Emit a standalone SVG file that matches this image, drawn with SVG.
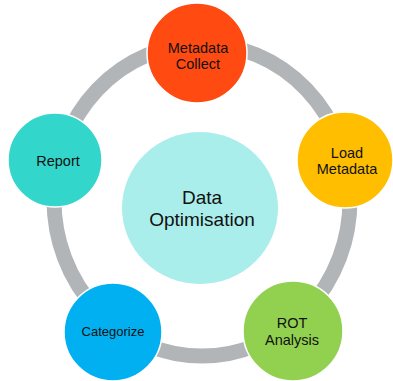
<svg xmlns="http://www.w3.org/2000/svg" width="393" height="381" viewBox="0 0 393 381">
<style>
.node{stroke:#ffffff;stroke-width:1.5}
.lbl{font-family:"Liberation Sans",Arial,sans-serif;font-size:14.5px;fill:#111111;text-anchor:middle}
.ring{fill:none;stroke:#B2B5B8;stroke-width:15}
</style>
<rect width="393" height="381" fill="#ffffff"/>
<g id="connectors">
<ellipse class="ring" cx="202" cy="200" rx="148" ry="156"/>
</g>
<g id="center">
<ellipse cx="200" cy="208" rx="78" ry="76" fill="#AAEEEB"/>
<text class="lbl" x="202" y="204" style="font-size:19px">Data</text>
<text class="lbl" x="202" y="226" style="font-size:19px">Optimisation</text>
</g>
<g id="metadata-collect">
<circle class="node" cx="197" cy="53" r="50" fill="#FF4A12"/>
<text class="lbl" x="198" y="53">Metadata</text>
<text class="lbl" x="198" y="69">Collect</text>
</g>
<g id="load-metadata">
<circle class="node" cx="345" cy="160" r="48" fill="#FFBE00"/>
<text class="lbl" x="347" y="158">Load</text>
<text class="lbl" x="347" y="174">Metadata</text>
</g>
<g id="rot-analysis">
<circle class="node" cx="293" cy="331" r="50" fill="#92D050"/>
<text class="lbl" x="292" y="328">ROT</text>
<text class="lbl" x="292" y="345">Analysis</text>
</g>
<g id="categorize">
<circle class="node" cx="113" cy="332" r="49" fill="#00B0F0"/>
<text class="lbl" x="113" y="336" style="font-size:13px">Categorize</text>
</g>
<g id="report">
<circle class="node" cx="55" cy="160" r="47" fill="#33D6CB"/>
<text class="lbl" x="58" y="166">Report</text>
</g>
</svg>
